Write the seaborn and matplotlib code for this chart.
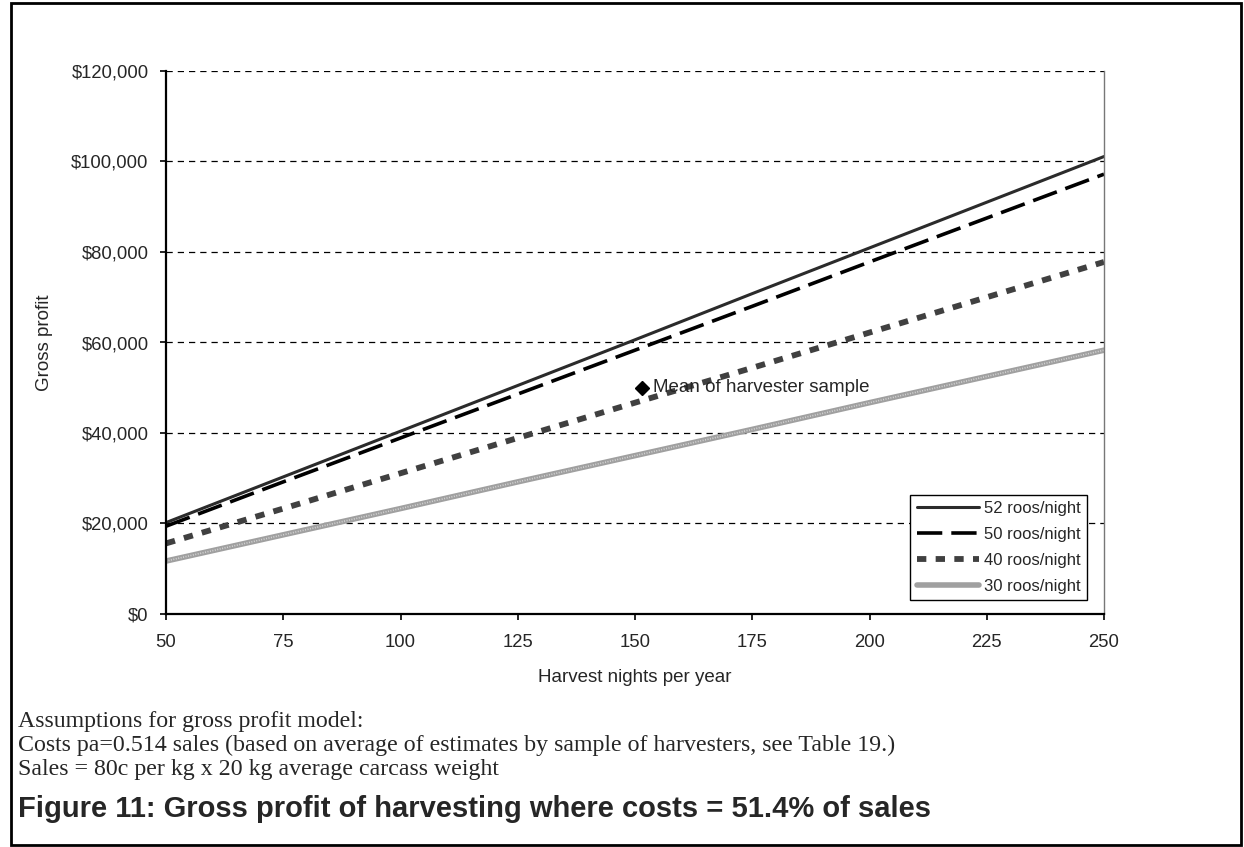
import numpy as np
import pandas as pd
import matplotlib.pyplot as plt
import matplotlib.ticker as mticker
from matplotlib.patches import Rectangle
import seaborn as sns

# data
nights = [50, 75, 100, 125, 150, 175, 200, 225, 250]
profit_52 = [20200, 30300, 40400, 50500, 60600, 70800, 80900, 91000, 101100]
profit_50 = [19400, 29200, 38900, 48600, 58300, 68000, 77800, 87500, 97200]
profit_40 = [15600, 23300, 31100, 38900, 46700, 54400, 62200, 70000, 77800]
profit_30 = [11700, 17500, 23300, 29200, 35000, 40800, 46700, 52500, 58300]
series_names = ['52 roos/night', '50 roos/night', '40 roos/night', '30 roos/night']
mean_x = [151.5]
mean_y = [50000]
y_ticks = [0, 20000, 40000, 60000, 80000, 100000, 120000]
x_ticks = [50, 75, 100, 125, 150, 175, 200, 225, 250]

sns.set_style('white')
plt.rcParams['font.family'] = ['Liberation Sans', 'DejaVu Sans']

df = pd.DataFrame({
    'nights': nights * 4,
    'profit': profit_52 + profit_50 + profit_40 + profit_30,
    'series': sum([[s] * len(nights) for s in series_names], []),
})

W, H = 1244, 847
fig = plt.figure(figsize=(W / 100, H / 100), dpi=100)
ax = fig.add_axes([166 / W, 1 - 614 / H, 938 / W, 543 / H])

styles = {
    '52 roos/night': dict(color='#2b2b2b', lw=2.2, ls='-'),
    '50 roos/night': dict(color='black', lw=2.6, ls=(0, (7, 2.5))),
    '40 roos/night': dict(color='#404040', lw=4.2, ls=(0, (1.6, 1.6))),
    '30 roos/night': dict(color='#a0a0a0', lw=4.0, ls='-'),
}
for name in series_names:
    sub = df[df['series'] == name]
    sns.lineplot(data=sub, x='nights', y='profit', ax=ax, label=name,
                 **styles[name])
# stippled texture on the 30 roos line
ax.plot(nights, profit_30, color='#d4d4d4', lw=1.2, ls=(0, (0.6, 0.9)),
        label='_nolegend_')

# mean of harvester sample
ax.plot(mean_x, mean_y, marker='D', color='black', markersize=7, ls='none')
ax.annotate('Mean of harvester sample', (mean_x[0], mean_y[0]),
            xytext=(8, 0), textcoords='offset points', va='center',
            fontsize=13.5)

ax.set_xlim(50, 250)
ax.set_ylim(0, 120000)
ax.set_xticks(x_ticks)
ax.set_yticks(y_ticks)
ax.yaxis.set_major_formatter(mticker.StrMethodFormatter('${x:,.0f}'))
ax.tick_params(axis='both', labelsize=13.3, direction='out', length=4.5,
               width=1.2, pad=8, color='black', left=True, bottom=True)
ax.tick_params(axis='x', pad=10)
ax.set_xlabel('Harvest nights per year', fontsize=13.5, labelpad=13)
ax.set_ylabel('Gross profit', fontsize=13.5, labelpad=13)

ax.grid(axis='y', color='black', ls=(0, (5, 4)), lw=0.9)
ax.set_axisbelow(True)
for side in ['left', 'bottom']:
    ax.spines[side].set_color('black')
    ax.spines[side].set_linewidth(1.6)
ax.spines['top'].set_visible(False)
ax.spines['right'].set_color('#777777')
ax.spines['right'].set_linewidth(1)

leg = ax.legend(loc='lower right', bbox_to_anchor=(0.982, 0.025),
                borderaxespad=0, fontsize=12, handlelength=3.7,
                handletextpad=0.3, fancybox=False, framealpha=1,
                edgecolor='black', labelspacing=0.65, borderpad=0.4)
leg.get_frame().set_linewidth(1)

# notes under the chart
notes = ['Assumptions for gross profit model:',
         'Costs pa=0.514 sales (based on average of estimates by sample of harvesters, see Table 19.)',
         'Sales = 80c per kg x 20 kg average carcass weight']
for i, line in enumerate(notes):
    fig.text(18 / W, 1 - (721 + 24 * i) / H, line, fontsize=17.2,
             family=['Liberation Serif', 'DejaVu Serif'], va='center')
fig.text(18 / W, 1 - 809 / H,
         'Figure 11: Gross profit of harvesting where costs = 51.4% of sales',
         fontsize=21, fontweight='bold', va='center')

fig.patches.append(Rectangle((11 / W, 2 / H), 1230 / W, 842 / H,
                             transform=fig.transFigure, fill=False,
                             edgecolor='black', lw=2))

fig.savefig('out.png', dpi=100)
